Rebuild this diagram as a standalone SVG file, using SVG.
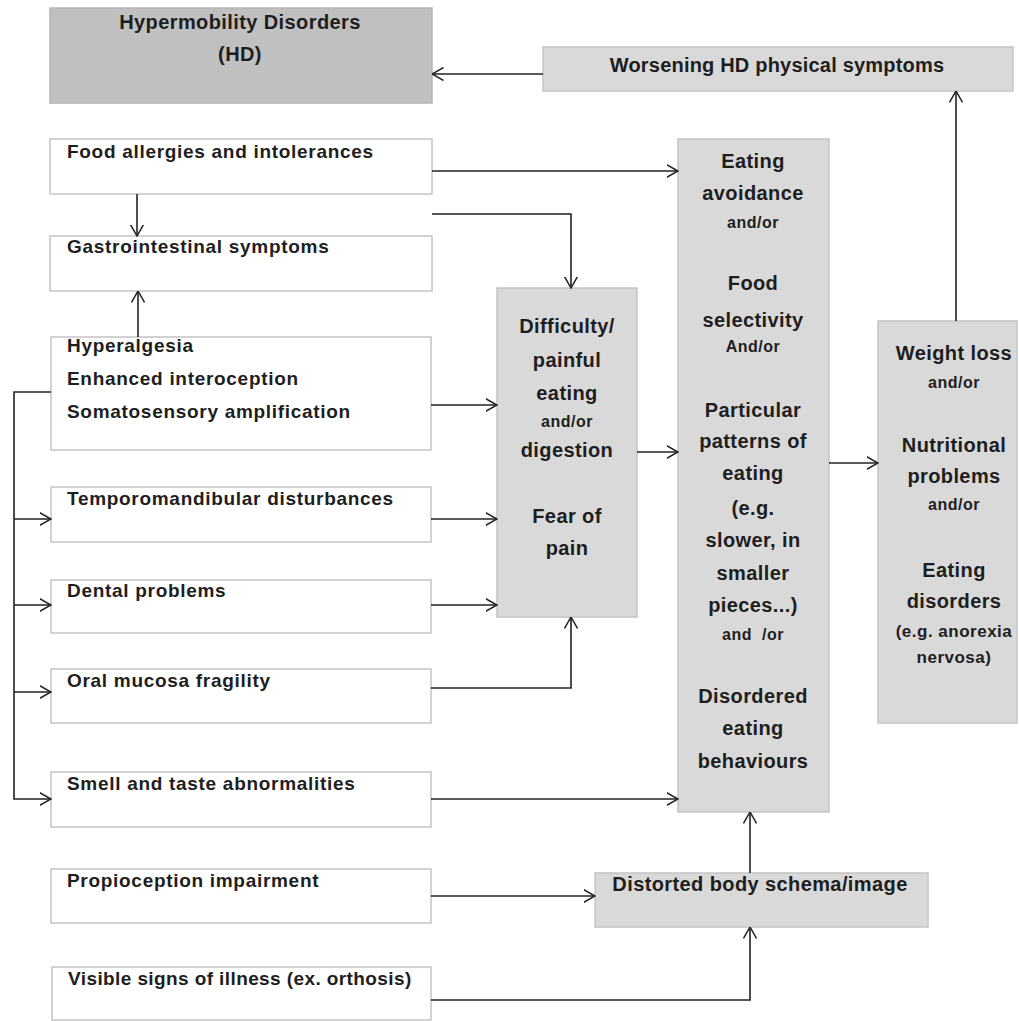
<svg xmlns="http://www.w3.org/2000/svg" width="1019" height="1021" viewBox="0 0 1019 1021">
<defs>
<marker id="ah" viewBox="0 0 12 14" refX="11.5" refY="7" markerWidth="12" markerHeight="14" markerUnits="userSpaceOnUse" orient="auto">
<path d="M0,0.5 L11.5,7 L0,13.5" fill="none" stroke="#222" stroke-width="1.5"/>
</marker>
<style>
.w{fill:#ffffff;stroke:#c4c4c4;stroke-width:1.5}
.g{fill:#d9d9d9;stroke:#c4c4c4;stroke-width:1.5}
.d{fill:#c0c0c0;stroke:#b4b4b4;stroke-width:1.5}
text{font-family:"Liberation Sans",Arial,sans-serif;font-weight:bold;fill:#1e1e1e}
.l{font-size:19px;letter-spacing:0.7px}
.b{font-size:20px;letter-spacing:0.4px;text-anchor:middle}
.s{font-size:16px;letter-spacing:0.5px;text-anchor:middle}
.m{font-size:17px;letter-spacing:0.5px;text-anchor:middle}
.c path{fill:none;stroke:#222;stroke-width:1.6}
</style>
</defs>
<rect width="1019" height="1021" fill="#fff"/>

<g id="hd"><rect class="d" x="50" y="8" width="382" height="95"/>
<text class="b" x="240" y="29">Hypermobility Disorders</text>
<text class="b" x="240" y="61">(HD)</text></g>

<g id="worsening"><rect class="g" x="543" y="47" width="470" height="44"/>
<text class="b" x="777" y="72" style="letter-spacing:0.2px">Worsening HD physical symptoms</text></g>

<g id="food"><rect class="w" x="50" y="139" width="382" height="55"/>
<text class="l" x="67" y="158">Food allergies and intolerances</text></g>

<g id="gi"><rect class="w" x="50" y="236" width="382" height="55"/>
<text class="l" x="67" y="253">Gastrointestinal symptoms</text></g>

<g id="hyper"><rect class="w" x="51" y="337" width="380" height="113"/>
<text class="l" x="67" y="352">Hyperalgesia</text>
<text class="l" x="67" y="385">Enhanced interoception</text>
<text class="l" x="67" y="418">Somatosensory amplification</text></g>

<g id="tmd"><rect class="w" x="51" y="487" width="380" height="55"/>
<text class="l" x="67" y="505">Temporomandibular disturbances</text></g>

<g id="dental"><rect class="w" x="51" y="580" width="380" height="53"/>
<text class="l" x="67" y="597">Dental problems</text></g>

<g id="oral"><rect class="w" x="51" y="669" width="380" height="54"/>
<text class="l" x="67" y="687">Oral mucosa fragility</text></g>

<g id="smell"><rect class="w" x="51" y="772" width="380" height="55"/>
<text class="l" x="67" y="790">Smell and taste abnormalities</text></g>

<g id="propio"><rect class="w" x="51" y="869" width="380" height="54"/>
<text class="l" x="67" y="887">Propioception impairment</text></g>

<g id="visible"><rect class="w" x="52" y="967" width="379" height="53"/>
<text class="l" x="68" y="985" style="letter-spacing:0.4px">Visible signs of illness (ex. orthosis)</text></g>

<g id="difficulty"><rect class="g" x="497" y="288" width="140" height="329"/>
<text class="b" x="567" y="333">Difficulty/</text>
<text class="b" x="567" y="367">painful</text>
<text class="b" x="567" y="400">eating</text>
<text class="s" x="567" y="427">and/or</text>
<text class="b" x="567" y="457">digestion</text>
<text class="b" x="567" y="523">Fear of</text>
<text class="b" x="567" y="555">pain</text></g>

<g id="eating"><rect class="g" x="678" y="139" width="151" height="673"/>
<text class="b" x="753" y="168">Eating</text>
<text class="b" x="753" y="200">avoidance</text>
<text class="s" x="753" y="228">and/or</text>
<text class="b" x="753" y="290">Food</text>
<text class="b" x="753" y="327">selectivity</text>
<text class="s" x="753" y="352">And/or</text>
<text class="b" x="753" y="417">Particular</text>
<text class="b" x="753" y="448">patterns of</text>
<text class="b" x="753" y="480">eating</text>
<text class="b" x="753" y="515">(e.g.</text>
<text class="b" x="753" y="547">slower, in</text>
<text class="b" x="753" y="580">smaller</text>
<text class="b" x="753" y="612">pieces...)</text>
<text class="s" x="753" y="640" xml:space="preserve">and  /or</text>
<text class="b" x="753" y="703">Disordered</text>
<text class="b" x="753" y="735">eating</text>
<text class="b" x="753" y="768">behaviours</text></g>

<g id="weight"><rect class="g" x="878" y="321" width="139" height="402"/>
<text class="b" x="954" y="360">Weight loss</text>
<text class="s" x="954" y="388">and/or</text>
<text class="b" x="954" y="452">Nutritional</text>
<text class="b" x="954" y="483">problems</text>
<text class="s" x="954" y="510">and/or</text>
<text class="b" x="954" y="577">Eating</text>
<text class="b" x="954" y="608">disorders</text>
<text class="m" x="954" y="637">(e.g. anorexia</text>
<text class="m" x="954" y="663">nervosa)</text></g>

<g id="distorted"><rect class="g" x="595" y="873" width="333" height="54"/>
<text class="b" x="760" y="891">Distorted body schema/image</text></g>

<g id="connectors" class="c">
<path d="M543,74 H432" marker-end="url(#ah)"/>
<path d="M432,171 H678" marker-end="url(#ah)"/>
<path d="M137,194 V236" marker-end="url(#ah)"/>
<path d="M138,337 V291" marker-end="url(#ah)"/>
<path d="M432,214 H571 V288" marker-end="url(#ah)"/>
<path d="M431,405 H497" marker-end="url(#ah)"/>
<path d="M431,519 H497" marker-end="url(#ah)"/>
<path d="M431,605 H497" marker-end="url(#ah)"/>
<path d="M431,688 H571 V617" marker-end="url(#ah)"/>
<path d="M431,799 H678" marker-end="url(#ah)"/>
<path d="M431,896 H595" marker-end="url(#ah)"/>
<path d="M431,1000 H750 V927" marker-end="url(#ah)"/>
<path d="M750,873 V812" marker-end="url(#ah)"/>
<path d="M637,452 H678" marker-end="url(#ah)"/>
<path d="M829,463 H878" marker-end="url(#ah)"/>
<path d="M956,321 V91" marker-end="url(#ah)"/>
<path d="M51,392 H14 V799 H51" marker-end="url(#ah)"/>
<path d="M14,519 H51" marker-end="url(#ah)"/>
<path d="M14,605 H51" marker-end="url(#ah)"/>
<path d="M14,692 H51" marker-end="url(#ah)"/>
</g>
</svg>
